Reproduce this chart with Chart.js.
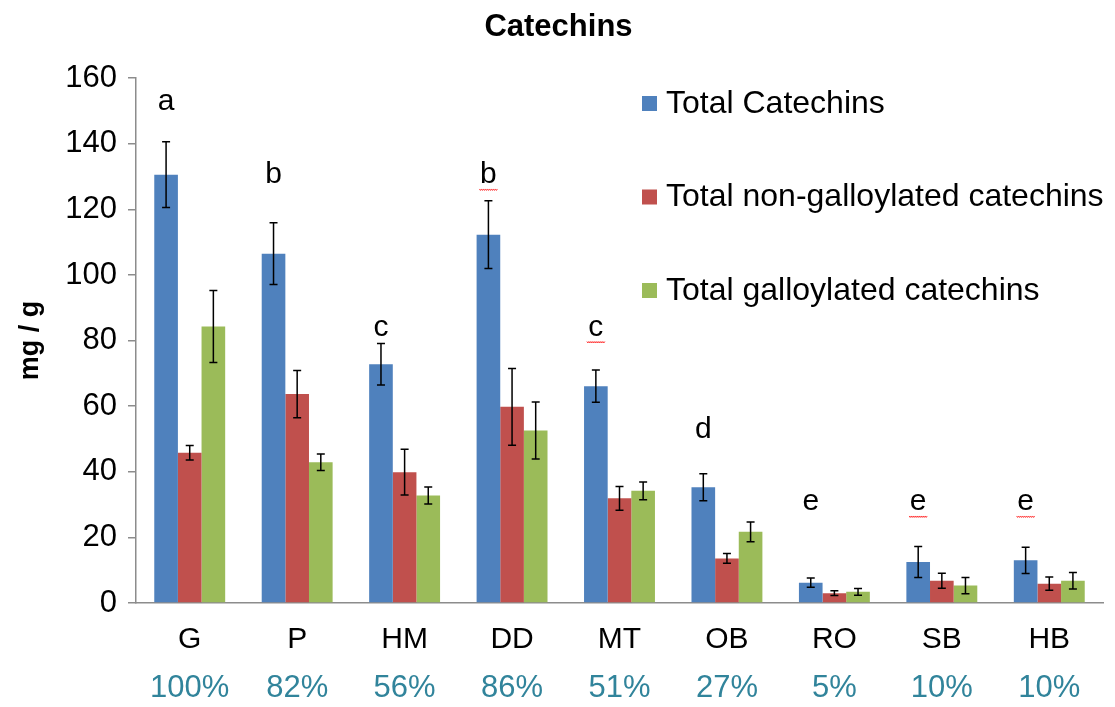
<!DOCTYPE html>
<html>
<head>
<meta charset="utf-8">
<script src="https://cdn.jsdelivr.net/npm/chart.js@4.4.1/dist/chart.umd.min.js"></script>
<style>
  html, body { margin: 0; padding: 0; background: #fff; }
  #wrap { width: 1115px; height: 707px; }
</style>
</head>
<body>
<div id="wrap"><canvas id="chartCanvas"></canvas></div>
<script>
const FONT = "'Liberation Sans', Arial, sans-serif";

// данные
const categories = ['G', 'P', 'HM', 'DD', 'MT', 'OB', 'RO', 'SB', 'HB'];
const percents = ['100%', '82%', '56%', '86%', '51%', '27%', '5%', '10%', '10%'];
const totalCatechins = [130.6, 106.5, 72.8, 112.3, 66.1, 35.3, 6.2, 12.5, 13.0];
const totalNonGall = [45.8, 63.7, 39.9, 59.8, 31.9, 13.6, 3.0, 6.8, 5.9];
const totalGall = [84.3, 42.9, 32.8, 52.6, 34.2, 21.7, 3.4, 5.3, 6.8];
const errCatechins = [10.0, 9.4, 6.3, 10.3, 4.9, 4.1, 1.4, 4.7, 4.0];
const errNonGall = [2.2, 7.2, 7.0, 11.7, 3.6, 1.5, 0.7, 2.3, 2.0];
const errGall = [11.0, 2.5, 2.6, 8.7, 2.7, 3.0, 1.0, 2.5, 2.5];
const letters = ['a', 'b', 'c', 'b', 'c', 'd', 'e', 'e', 'e'];
const letterLevel = [152.7, 130.5, 84, 130.5, 84, 52.7, 30.8, 30.8, 30.8];
const letterUnderline = [false, false, false, true, true, false, false, true, true];
const yTicks = [0, 20, 40, 60, 80, 100, 120, 140, 160];

const colors = ['#4F81BD', '#C0504D', '#9BBB59'];

// усы погрешностей, буквы, проценты и легенда
const extrasPlugin = {
  id: 'extras',
  afterDatasetsDraw(chart) {
    const ctx = chart.ctx;
    const y = chart.scales.y;
    const x = chart.scales.x;
    ctx.save();
    // усы
    ctx.strokeStyle = '#000';
    ctx.lineWidth = 1.5;
    chart.data.datasets.forEach((ds, di) => {
      const meta = chart.getDatasetMeta(di);
      meta.data.forEach((bar, i) => {
        const v = ds.data[i];
        const e = ds.errors[i];
        const top = y.getPixelForValue(v + e);
        const bot = y.getPixelForValue(v - e);
        ctx.beginPath();
        ctx.moveTo(bar.x, top); ctx.lineTo(bar.x, bot);
        ctx.moveTo(bar.x - 4, top); ctx.lineTo(bar.x + 4, top);
        ctx.moveTo(bar.x - 4, bot); ctx.lineTo(bar.x + 4, bot);
        ctx.stroke();
      });
    });
    // буквы над группами
    const blue = chart.getDatasetMeta(0);
    ctx.fillStyle = '#000';
    ctx.font = '30px ' + FONT;
    ctx.textAlign = 'center';
    ctx.textBaseline = 'middle';
    letters.forEach((l, i) => {
      const bx = blue.data[i].x;
      const ly = y.getPixelForValue(letterLevel[i]);
      ctx.fillText(l, bx, ly);
      if (letterUnderline[i]) {
        // волнистое подчёркивание как в исходнике
        ctx.strokeStyle = '#FF3B3B';
        ctx.lineWidth = 1;
        ctx.beginPath();
        for (let k = 0; k <= 18; k++) {
          const px = bx - 9 + k;
          const py = ly + 14 + (k % 2 === 0 ? 0 : 1.5);
          if (k === 0) ctx.moveTo(px, py); else ctx.lineTo(px, py);
        }
        ctx.stroke();
      }
    });
    // проценты под подписями
    ctx.fillStyle = '#31849B';
    ctx.font = '31px ' + FONT;
    percents.forEach((p, i) => {
      ctx.fillText(p, x.getPixelForTick(i), 688);
    });
    // легенда
    ctx.textAlign = 'left';
    ctx.font = '32px ' + FONT;
    chart.data.datasets.forEach((ds, di) => {
      const ly = 103 + di * 93.5;
      ctx.fillStyle = ds.backgroundColor;
      ctx.fillRect(642, ly - 7, 15, 15);
      ctx.fillStyle = '#000';
      ctx.fillText(ds.label, 666, ly + 1);
    });
    ctx.restore();
  },
};

const data = {
  labels: categories,
  datasets: [
    { label: 'Total Catechins', data: totalCatechins, errors: errCatechins, backgroundColor: colors[0] },
    { label: 'Total non-galloylated catechins', data: totalNonGall, errors: errNonGall, backgroundColor: colors[1] },
    { label: 'Total galloylated catechins', data: totalGall, errors: errGall, backgroundColor: colors[2] },
  ],
};

const config = {
  type: 'bar',
  data: data,
  plugins: [extrasPlugin],
  options: {
    responsive: true,
    maintainAspectRatio: false,
    animation: false,
    layout: { padding: { left: 14, right: 12, top: 0, bottom: 0 } },
    datasets: {
      bar: { categoryPercentage: 0.66, barPercentage: 1.0 },
    },
    plugins: {
      legend: { display: false },
      tooltip: { enabled: false },
      title: {
        display: true,
        text: 'Catechins',
        color: '#000',
        font: { family: FONT, size: 31, weight: 'bold' },
        padding: { top: 9, bottom: 32 },
      },
    },
    scales: {
      x: {
        grid: { display: false },
        border: { display: true, color: '#8C8C8C', width: 1.5 },
        ticks: { color: '#000', font: { family: FONT, size: 30 }, padding: 11 },
        afterFit(scale) { scale.height = 104; },
      },
      y: {
        min: 0,
        max: 160,
        afterBuildTicks(scale) { scale.ticks = yTicks.map(v => ({ value: v })); },
        grid: { drawOnChartArea: false, drawTicks: true, tickLength: 8, color: '#8C8C8C', lineWidth: 1.5 },
        border: { display: true, color: '#8C8C8C', width: 1.5 },
        ticks: { color: '#000', font: { family: FONT, size: 31 }, padding: 11 },
        title: {
          display: true,
          text: 'mg / g',
          color: '#000',
          font: { family: FONT, size: 27, weight: 'bold' },
          padding: { top: 0, bottom: 0 },
        },
        afterFit(scale) { scale.width = 122; },
      },
    },
  },
};

new Chart(document.getElementById('chartCanvas'), config);
</script>
</body>
</html>
